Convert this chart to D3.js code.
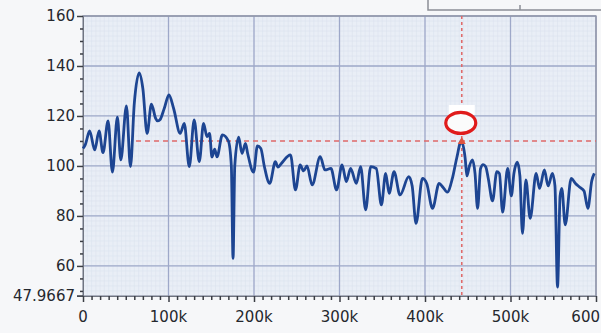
<!DOCTYPE html>
<html>
<head>
<meta charset="utf-8">
<script src="https://cdn.jsdelivr.net/npm/d3@7"></script>
<style>
  html, body { margin: 0; padding: 0; background: #f6f7f9; }
  svg { display: block; }
  .tick-label { font-family: "DejaVu Sans", sans-serif; font-size: 15px; fill: #25282e; }
</style>
</head>
<body>
<div id="chart"></div>
<script>
// ─── Data ───────────────────────────────────────────────────
// frequency in k (x axis), amplitude (y axis)
const freqK = [
  0, 2.7, 7.8, 13.7, 18.8, 23.4, 29.3, 34.4, 40.2, 44.2, 50.8, 55.5, 60, 65.7, 70,
  75, 80, 85, 87, 90, 95, 100.5, 106, 113.7, 118.4, 124.3, 130, 136, 141, 145,
  148, 150.8, 154, 156.7, 163, 170, 173.5, 175.5, 177.5, 182, 186, 190, 192.6, 199.5, 204,
  208, 212, 218.4, 225, 228, 232, 242.7, 248.5, 254, 258, 262, 268, 277.5, 283, 290,
  296.6, 303, 308, 313, 319.7, 324.7, 330.6, 336.5, 343, 349, 354, 358, 363.8, 370.8, 381,
  385, 389.5, 397, 402, 408.8, 416.5, 421, 426, 432, 437, 442.5, 447, 449, 452, 455.6,
  458.5, 461.5, 465, 468, 471, 474, 479, 484, 487, 490.8, 496.7, 501, 504, 508, 511,
  514, 518, 523, 530, 534, 539.6, 544, 549, 552, 555, 558, 560, 564, 571, 576,
  581, 586, 590.5, 595, 598
];
const amplitude = [
  107, 108.5, 114, 106.4, 114, 105.3, 118, 97.5, 119.5, 102.4, 124, 99.7, 125, 137.2, 131,
  113, 124.7, 119, 118, 118.5, 123, 128.4, 123, 113, 117, 99.7, 118.4, 101.7, 117, 111.7,
  113, 103.6, 106.7, 103.6, 112.4, 110, 100, 63, 100, 111.5, 105, 109, 105, 97.5, 108,
  107, 100, 93, 101.7, 99.5, 101, 104.4, 90.4, 100.4, 98, 100, 92.4, 103.7, 98.4, 99,
  90.4, 100.4, 93.7, 99, 93, 99.7, 82.4, 99.7, 99, 84.4, 97, 89, 97.7, 88.4, 95.7,
  92, 77, 95, 93, 83, 93, 91.5, 89.5, 95, 103, 110, 103, 96, 100, 102.4,
  97, 83, 99, 100.5, 99.7, 95, 86, 97.7, 97, 81.5, 99, 88, 97, 101.5, 96,
  73, 94.4, 79, 97, 91, 98.4, 92, 97, 92, 51.5, 88, 91, 76.4, 95, 93,
  91.5, 90, 83, 94, 97
];

const xTickValues = [0, 100000, 200000, 300000, 400000, 500000, 600000];
const xTickLabels = ["0", "100k", "200k", "300k", "400k", "500k", "600"];
const yTickValues = [60, 80, 100, 120, 140, 160];
const yMin = 47.9667;
const yMax = 160;

// marker / crosshair
const markerFreq = 443000;
const markerLevel = 110;
const crossStartFreq = 62000;

// ─── Layout ─────────────────────────────────────────────────
const W = 601, H = 333;
const plot = { left: 83, right: 596, top: 16, bottom: 296 };

const svg = d3.select("#chart").append("svg")
  .attr("width", W)
  .attr("height", H);

const x = d3.scaleLinear().domain([0, 600000]).range([plot.left, plot.right]);
const y = d3.scaleLinear().domain([yMin, yMax]).range([plot.bottom, plot.top]);

// plot background
svg.append("rect")
  .attr("x", plot.left)
  .attr("y", plot.top)
  .attr("width", plot.right - plot.left)
  .attr("height", plot.bottom - plot.top)
  .attr("fill", "#e9eef6");

// top-right box edge (toolbar fragment)
svg.append("path")
  .attr("d", "M428,0 V10 H601 M520,5 V10")
  .attr("fill", "none")
  .attr("stroke", "#8c8f96")
  .attr("stroke-width", 1.5);

// minor grid (fine texture)
const minorX = d3.range(0, 600001, 5000);
const minorY = d3.range(48, 160.1, 2);
svg.append("g")
  .selectAll("line")
  .data(minorX)
  .enter()
  .append("line")
  .attr("x1", (d) => x(d)).attr("x2", (d) => x(d))
  .attr("y1", plot.top).attr("y2", plot.bottom)
  .attr("stroke", "#dbe2ee")
  .attr("stroke-width", 0.6);
svg.append("g")
  .selectAll("line")
  .data(minorY)
  .enter()
  .append("line")
  .attr("x1", plot.left).attr("x2", plot.right)
  .attr("y1", (d) => y(d)).attr("y2", (d) => y(d))
  .attr("stroke", "#dbe2ee")
  .attr("stroke-width", 0.6);

// major grid
svg.append("g")
  .selectAll("line")
  .data(xTickValues.slice(1))
  .enter()
  .append("line")
  .attr("x1", (d) => x(d)).attr("x2", (d) => x(d))
  .attr("y1", plot.top).attr("y2", plot.bottom)
  .attr("stroke", "#9ea8c9")
  .attr("stroke-width", 1.3);
svg.append("g")
  .selectAll("line")
  .data(yTickValues)
  .enter()
  .append("line")
  .attr("x1", plot.left).attr("x2", plot.right)
  .attr("y1", (d) => y(d)).attr("y2", (d) => y(d))
  .attr("stroke", "#9ea8c9")
  .attr("stroke-width", 1.3);

// frame
svg.append("rect")
  .attr("x", plot.left)
  .attr("y", plot.top)
  .attr("width", plot.right - plot.left)
  .attr("height", plot.bottom - plot.top)
  .attr("fill", "none")
  .attr("stroke", "#8e93a3")
  .attr("stroke-width", 1.3);

// ─── Axes ───────────────────────────────────────────────────
const yAxis = svg.append("g")
  .attr("transform", `translate(${plot.left},0)`)
  .call(d3.axisLeft(y).tickValues(yTickValues).tickSize(6).tickFormat(""));
yAxis.select(".domain").attr("stroke", "#6f7480");
yAxis.selectAll(".tick line").attr("stroke", "#3a3d44").attr("stroke-width", 1.5);

const yMinor = svg.append("g")
  .attr("transform", `translate(${plot.left},0)`)
  .call(d3.axisLeft(y).tickValues(d3.range(50, 160, 5).filter((v) => v % 20 !== 0)).tickSize(3).tickFormat(""));
yMinor.select(".domain").remove();
yMinor.selectAll(".tick line").attr("stroke", "#3a3d44").attr("stroke-width", 1.5);

svg.append("g")
  .selectAll("text")
  .data(yTickValues.concat([yMin]))
  .enter()
  .append("text")
  .attr("class", "tick-label")
  .attr("x", plot.left - 8)
  .attr("y", (d) => y(d))
  .attr("dy", "0.36em")
  .attr("text-anchor", "end")
  .text((d) => (d === yMin ? "47.9667" : d));

svg.append("line")
  .attr("x1", plot.left - 6).attr("x2", plot.left)
  .attr("y1", y(yMin)).attr("y2", y(yMin))
  .attr("stroke", "#3a3d44").attr("stroke-width", 1.5);

const xAxis = svg.append("g")
  .attr("transform", `translate(0,${plot.bottom})`)
  .call(d3.axisBottom(x).tickValues(xTickValues).tickSize(6).tickFormat(""));
xAxis.select(".domain").attr("stroke", "#6f7480");
xAxis.selectAll(".tick line").attr("stroke", "#3a3d44").attr("stroke-width", 1.5);

const xMinor = svg.append("g")
  .attr("transform", `translate(0,${plot.bottom})`)
  .call(d3.axisBottom(x).tickValues(d3.range(10000, 600000, 10000).filter((v) => v % 100000 !== 0)).tickSize(4).tickFormat(""));
xMinor.select(".domain").remove();
xMinor.selectAll(".tick line").attr("stroke", "#3a3d44").attr("stroke-width", 1.5);

// last label sits against the right edge, as in the source screenshot
svg.append("g")
  .selectAll("text")
  .data(xTickValues)
  .enter()
  .append("text")
  .attr("class", "tick-label")
  .attr("x", (d, i) => (i === xTickValues.length - 1 ? W - 1 : x(d)))
  .attr("y", plot.bottom + 21)
  .attr("dy", "0.36em")
  .attr("text-anchor", (d, i) => (i === xTickValues.length - 1 ? "end" : "middle"))
  .text((d, i) => xTickLabels[i]);

// ─── Crosshair ──────────────────────────────────────────────
svg.append("line")
  .attr("x1", x(markerFreq)).attr("x2", x(markerFreq))
  .attr("y1", plot.top).attr("y2", plot.bottom)
  .attr("stroke", "#df6a6a")
  .attr("stroke-width", 1.6)
  .attr("stroke-dasharray", "3,3");
svg.append("line")
  .attr("x1", x(crossStartFreq)).attr("x2", plot.right)
  .attr("y1", y(markerLevel)).attr("y2", y(markerLevel))
  .attr("stroke", "#df6a6a")
  .attr("stroke-width", 1.6)
  .attr("stroke-dasharray", "5,4");

// ─── Series ─────────────────────────────────────────────────
const series = freqK.map((f, i) => ({ f: f * 1000, v: amplitude[i] }));
const line = d3.line()
  .x((d) => x(d.f))
  .y((d) => y(d.v))
  .curve(d3.curveMonotoneX);

svg.append("path")
  .datum(series)
  .attr("d", line)
  .attr("fill", "none")
  .attr("stroke", "#1d4592")
  .attr("stroke-width", 2.8)
  .attr("stroke-linejoin", "round");

// marker triangle at peak
const mx = x(markerFreq), my = y(markerLevel);
svg.append("path")
  .attr("d", `M${mx - 4},${my + 3} L${mx + 4},${my + 3} L${mx},${my - 4} Z`)
  .attr("fill", "#e0533f");

// annotation ellipse
svg.append("rect")
  .attr("x", mx - 13).attr("y", my - 36)
  .attr("width", 26).attr("height", 10)
  .attr("fill", "#ffffff");
svg.append("ellipse")
  .attr("cx", mx - 1).attr("cy", my - 18)
  .attr("rx", 15).attr("ry", 10.5)
  .attr("fill", "#fbfbfb")
  .attr("stroke", "#e01b1b")
  .attr("stroke-width", 3.2);
</script>
</body>
</html>
